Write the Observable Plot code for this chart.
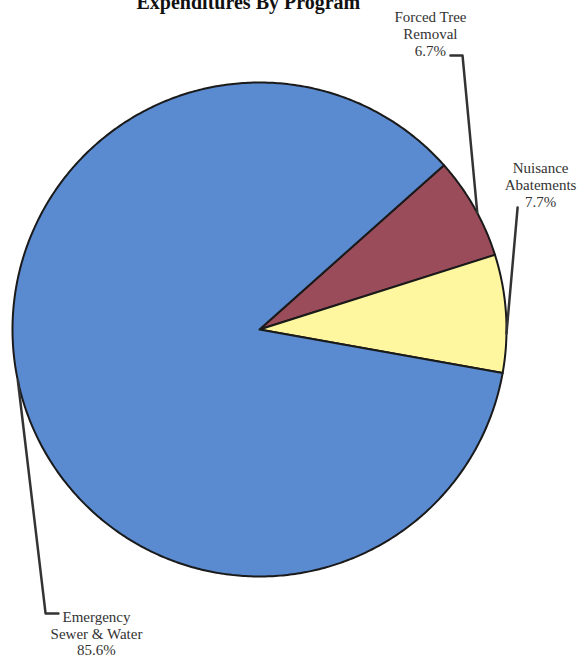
<!DOCTYPE html>
<html>
<head>
<meta charset="utf-8">
<script src="https://cdn.jsdelivr.net/npm/d3@7"></script>
<script src="https://cdn.jsdelivr.net/npm/@observablehq/plot@0.6"></script>
<style>
  html, body { margin: 0; padding: 0; background: #fff; }
  #chart svg { display: block; }
</style>
</head>
<body>
<div id="chart"></div>
<script>
// Program expenditure shares (percent)
const programs = ["Forced Tree\nRemoval", "Nuisance\nAbatements", "Emergency\nSewer & Water"];
const shares = [6.7, 7.7, 85.6];
const colors = ["#9a4c5a", "#fff79f", "#5a8ad0"];
const title = "Expenditures By Program";

// Layout (pie radius = 1 unit, centre at origin)
const W = 581, H = 657;
const cx = 259, cy = 329, R = 247;           // pixel centre and radius
const rotation = 48.3 * Math.PI / 180;         // start angle of the first slice
const labelLayout = [
  {x: 0.692, y: 1.198, elbow: [[0.773, 1.109], [0.822, 1.109]], shift: 1.5},
  {x: 1.138, y: 0.587, elbow: [[1.045, 0.494]], shift: 4.7},
  {x: -0.660, y: -1.229, elbow: [[-0.814, -1.150], [-0.866, -1.150]], shift: 3.8}
];

const data = programs.map((name, i) => ({name, share: shares[i], color: colors[i]}));
const arcs = d3.pie().sort(null).value(d => d.share)
  .startAngle(rotation).endAngle(rotation + 2 * Math.PI)(data);

// Slice outlines as closed polygons (centre -> arc -> centre)
const slicePts = [];
arcs.forEach(a => {
  const n = Math.max(8, Math.ceil((a.endAngle - a.startAngle) / 0.01));
  slicePts.push({name: a.data.name, x: 0, y: 0});
  for (let k = 0; k <= n; k++) {
    const t = a.startAngle + (a.endAngle - a.startAngle) * k / n;
    slicePts.push({name: a.data.name, x: Math.sin(t), y: Math.cos(t)});
  }
  slicePts.push({name: a.data.name, x: 0, y: 0});
});

// Leader lines from label elbow to the slice edge
const leaderPts = [];
arcs.forEach((a, i) => {
  const L = labelLayout[i];
  const mid = (a.startAngle + a.endAngle) / 2 + L.shift * Math.PI / 180;
  L.elbow.forEach(([x, y]) => leaderPts.push({name: a.data.name, x, y}));
  leaderPts.push({name: a.data.name, x: Math.sin(mid), y: Math.cos(mid)});
});

const labels = arcs.map((a, i) => ({
  text: `${a.data.name}\n${a.data.share.toFixed(1)}%`,
  x: labelLayout[i].x, y: labelLayout[i].y
}));

const chart = Plot.plot({
  width: W, height: H,
  margin: 0,
  x: {domain: [-cx / R, (W - cx) / R], axis: null},
  y: {domain: [-(H - cy) / R, cy / R], axis: null},
  color: {domain: programs, range: colors},
  marks: [
    Plot.line(slicePts, {x: "x", y: "y", z: "name", fill: "name", stroke: "#1a1a1a", strokeWidth: 2, strokeLinejoin: "round"}),
    Plot.line(leaderPts, {x: "x", y: "y", z: "name", stroke: "#333", strokeWidth: 2.5}),
    Plot.text(labels, {x: "x", y: "y", text: "text", fontFamily: "Liberation Serif", fontSize: 15, lineHeight: 1.13, fill: "#333", textAnchor: "middle", lineAnchor: "middle"}),
    Plot.text([title], {x: [-0.045], y: [(cy - 8) / R], text: d => d, fontFamily: "Liberation Serif", fontWeight: "bold", fontSize: 20, fill: "#111", textAnchor: "middle", lineAnchor: "bottom"})
  ]
});
document.getElementById("chart").append(chart);
</script>
</body>
</html>
